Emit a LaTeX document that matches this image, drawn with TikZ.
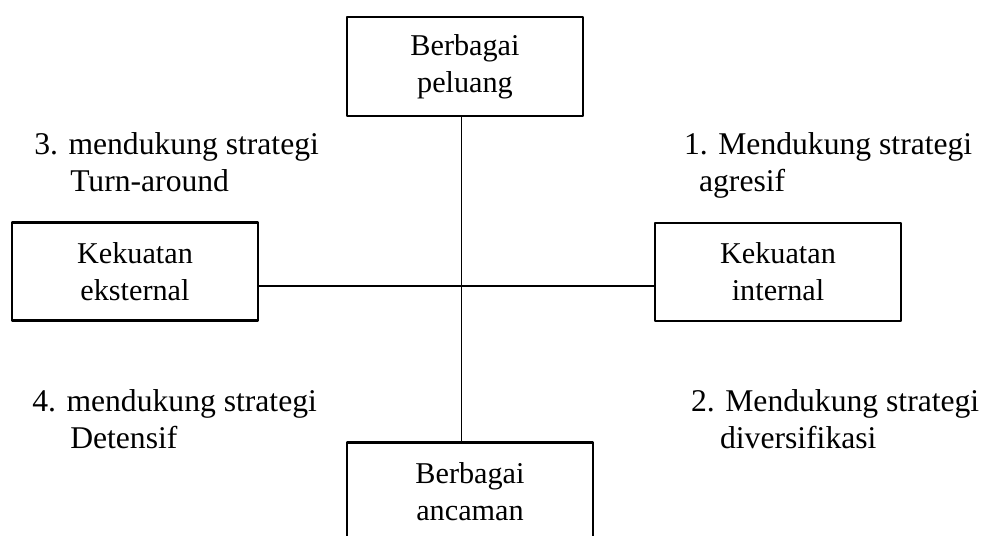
\documentclass[tikz,border=0pt]{standalone}
\usepackage{fontspec}
\setmainfont{Liberation Serif}
\begin{document}
\begin{tikzpicture}[line join=round, line cap=round, font=\fontsize{21.5}{26.5}\selectfont, scale=1,
	kotak/.style={draw, line width=1.8pt, minimum width=6.15cm, minimum height=2.45cm, align=center, inner sep=0pt},
	garis/.style={line width=1.3pt},
	teks/.style={anchor=base west, inner sep=0pt, font=\fontsize{22.5}{27}\selectfont}]
	\useasboundingbox (0,0) rectangle (24.55,13.4);
	\clip (0,0) rectangle (24.55,13.4);
	% kotak
	\node[kotak, minimum width=5.9cm, minimum height=2.475cm] (peluang) at (11.625,11.7375) {Berbagai\\peluang};
	\node[kotak] (ancaman) at (11.75,1.1125) {Berbagai\\ancaman};
	\node[kotak] (eksternal) at (3.375,6.6125) {Kekuatan\\eksternal};
	\node[kotak] (internal) at (19.45,6.6) {Kekuatan\\internal};
	% sumbu
	\coordinate (O) at (11.5375,6.25);
	\draw[garis] (peluang.south -| O) -- (ancaman.north -| O);
	\draw[garis] (eksternal.east |- O) -- (internal.west |- O);
	% kuadran
	\foreach\nama/\x/\y/\isi in {
		k3a/34/155/{3. mendukung strategi}, k3b/70/192/{Turn-around},
		k1a/684/155/{1. Mendukung strategi}, k1b/699/192/{agresif},
		k4a/32/412/{4. mendukung strategi}, k4b/70/449/{Detensif},
		k2a/691/412/{2. Mendukung strategi}, k2b/720/449/{diversifikasi}}{
		\node[teks] (\nama) at ({\x*0.025},{13.4-\y*0.025}) {\isi};
	};
\end{tikzpicture}
\end{document}
